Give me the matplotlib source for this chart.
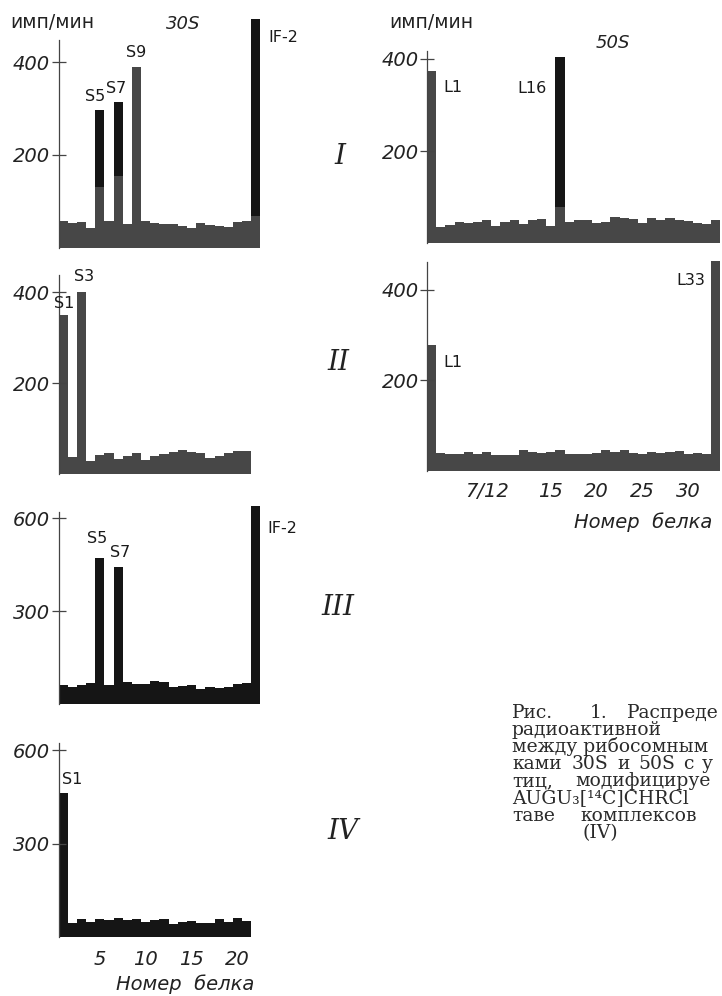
import matplotlib
matplotlib.use('Agg')
import matplotlib.pyplot as plt
import numpy as np

plt.rcParams['font.family'] = ['DejaVu Sans']

W, H = 722, 996
GREY = '#474747'
BLACK = '#151515'
AXIS = '#444444'

# белки
prot30 = [f'S{i}' for i in range(1, 22)]
prot30_if = prot30 + ['IF-2']
prot50 = ['L1', 'L2', 'L3', 'L4', 'L5', 'L6', 'L7/12', 'L8', 'L9', 'L10', 'L11'] + \
         [f'L{i}' for i in range(13, 34)]

# имп/мин
cpm30_I = [58, 54, 56, 44, 297, 58, 314, 51, 389, 58, 53, 51, 51, 47, 42, 53,
           49, 47, 46, 56, 58, 492]
black30_I = {'S5': 131, 'S7': 155, 'IF-2': 69}
cpm30_II = [349, 37, 400, 29, 42, 46, 33, 40, 46, 31, 40, 44, 48, 53, 48, 46,
            35, 40, 46, 51, 51]
cpm30_III = [61, 54, 61, 67, 472, 61, 441, 72, 65, 65, 75, 70, 56, 59, 61, 47,
             56, 51, 54, 65, 67, 640]
cpm30_IV = [462, 46, 57, 49, 59, 54, 62, 54, 59, 48, 54, 59, 43, 49, 51, 46,
            46, 57, 49, 60, 51]
cpm50_I = [374, 34, 39, 46, 44, 46, 49, 36, 46, 49, 41, 49, 52, 37, 404, 46,
           50, 51, 44, 46, 57, 54, 52, 44, 54, 50, 54, 50, 48, 44, 41, 49]
black50_I = {'L16': 78}
cpm50_II = [278, 40, 37, 37, 42, 37, 42, 35, 35, 35, 46, 42, 40, 42, 47, 38,
            38, 38, 40, 47, 42, 47, 40, 37, 42, 40, 42, 44, 38, 40, 38, 463]

ticks30 = ['S5', 'S10', 'S15', 'S20']
ticklabels30 = ['5', '10', '15', '20']
ticks50 = ['L7/12', 'L15', 'L20', 'L25', 'L30']
ticklabels50 = ['7/12', '15', '20', '25', '30']

fig = plt.figure(figsize=(W / 100, H / 100), dpi=100)


def ftext(x, y, s, **kw):
    fig.text(x / W, 1 - y / H, s, **kw)


def panel(x0, base, bw, ppu, top, names, cpm, tone='grey', black_from=None,
          yticks=(200, 400), spine_top=440):
    n = len(names)
    ax = fig.add_axes([x0 / W, (H - base) / H, n * bw / W, top * ppu / H])
    ax.patch.set_visible(False)
    x = np.arange(n)
    cpm = np.array(cpm, dtype=float)
    black_from = black_from or {}
    if tone == 'grey':
        lower = np.array([black_from.get(nm, v) for nm, v in zip(names, cpm)])
    else:
        lower = np.zeros(n)
    ax.bar(x, lower, width=1.0, color=GREY, linewidth=0)
    ax.bar(x, cpm - lower, bottom=lower, width=1.0, color=BLACK, linewidth=0)
    ax.set_xlim(-0.5, n - 0.5)
    ax.set_ylim(0, top)
    for s in ['top', 'right', 'bottom']:
        ax.spines[s].set_visible(False)
    ax.spines['left'].set_bounds(0, spine_top)
    ax.spines['left'].set_color(AXIS)
    ax.spines['left'].set_linewidth(0.9)
    ax.set_yticks(list(yticks))
    ax.set_yticklabels([str(t) for t in yticks], fontstyle='italic',
                       fontsize=14, color='#222222')
    ax.tick_params(axis='y', direction='inout', length=10, width=0.9,
                   color=AXIS, pad=1)
    ax.set_xticks([])
    return ax


def label(ax, names, cpm, name, dx, dy, ha='center', va='center'):
    i = names.index(name)
    ax.annotate(name, xy=(i, cpm[i]), xytext=(dx, dy), textcoords='offset points',
                ha=ha, va=va, fontsize=11.5, color='#1a1a1a')


def xticks(ax, names, ticks, labels, pad):
    ax.set_xticks([names.index(t) for t in ticks])
    ax.set_xticklabels(labels, fontstyle='italic', fontsize=14, color='#222222')
    ax.tick_params(axis='x', length=0, pad=pad)


# 30S
ax = panel(58.5, 248, 9.18, 0.465, 520, prot30_if, cpm30_I, 'grey', black30_I,
           (200, 400), 447)
label(ax, prot30_if, cpm30_I, 'S5', -3.5, 9.4)
label(ax, prot30_if, cpm30_I, 'S7', -1.6, 10)
label(ax, prot30_if, cpm30_I, 'S9', 0, 10.8)
label(ax, prot30_if, cpm30_I, 'IF-2', 9, -13, ha='left')

ax = panel(58.5, 474, 9.18, 0.455, 450, prot30, cpm30_II, 'grey', None,
           (200, 400), 437)
label(ax, prot30, cpm30_II, 'S1', 1, 8.6)
label(ax, prot30, cpm30_II, 'S3', 1.8, 11.5)

ax = panel(58.5, 704, 9.18, 0.31, 680, prot30_if, cpm30_III, 'black', None,
           (300, 600), 620)
label(ax, prot30_if, cpm30_III, 'S5', -2, 13.5)
label(ax, prot30_if, cpm30_III, 'S7', 1.7, 10.3)
label(ax, prot30_if, cpm30_III, 'IF-2', 8.4, -16.8, ha='left')

ax = panel(58.5, 937, 9.18, 0.311, 650, prot30, cpm30_IV, 'black', None,
           (300, 600), 625)
label(ax, prot30, cpm30_IV, 'S1', 6.8, 9.6)
xticks(ax, prot30, ticks30, ticklabels30, 9)

# 50S
ax = panel(427, 243, 9.17, 0.46, 450, prot50, cpm50_I, 'grey', black50_I,
           (200, 400), 418)
label(ax, prot50, cpm50_I, 'L1', 8.2, -12.2, ha='left')
label(ax, prot50, cpm50_I, 'L16', -9.4, -22.3, ha='right')

ax = panel(427, 471, 9.17, 0.4535, 480, prot50, cpm50_II, 'grey', None,
           (200, 400), 460)
label(ax, prot50, cpm50_II, 'L1', 8.2, -13, ha='left')
label(ax, prot50, cpm50_II, 'L33', -7.8, -13.7, ha='right')
xticks(ax, prot50, ticks50, ticklabels50, 8)

# подписи
ftext(52, 22, 'имп/мин', ha='center', va='center', fontsize=13.5, color='#222222')
ftext(431, 22, 'имп/мин', ha='center', va='center', fontsize=13.5, color='#222222')
ftext(183, 24, '30S', ha='center', va='center', fontsize=13, fontstyle='italic',
      color='#222222')
ftext(613, 43, '50S', ha='center', va='center', fontsize=13, fontstyle='italic',
      color='#222222')
ftext(185, 984, 'Номер  белка', ha='center', va='center', fontsize=14,
      fontstyle='italic', color='#222222')
ftext(643, 522, 'Номер  белка', ha='center', va='center', fontsize=14,
      fontstyle='italic', color='#222222')

for s, (x, y) in zip(['I', 'II', 'III', 'IV'],
                     [(340, 157), (338, 362), (338, 607), (343, 831)]):
    ftext(x, y, s, ha='center', va='center', fontsize=20, family='DejaVu Serif',
          fontstyle='italic', color='#222222')

# подпись к рисунку (на оригинале обрезана справа)
cap = dict(fontsize=13.5, family='DejaVu Serif', color='#2a2a2a', va='baseline')
caption = [
    [(512, 'Рис.'), (590, '1.'), (627, 'Распреде')],
    [(512, 'радиоактивной')],
    [(512, 'между рибосомным')],
    [(512, 'ками'), (572, '30S'), (617, 'и'), (638, '50S'), (683, 'с'), (702, 'у')],
    [(512, 'тиц,'), (575, 'модифицируе')],
    [(512, 'AUGU₃[¹⁴C]CHRCl')],
    [(512, 'таве'), (580, 'комплексов')],
]
for k, words in enumerate(caption):
    for x, w in words:
        ftext(x, 717.5 + 17.2 * k, w, ha='left', **cap)
ftext(600, 717.5 + 17.2 * 7, '(IV)', ha='center', **cap)

fig.savefig('out.png', dpi=100)
